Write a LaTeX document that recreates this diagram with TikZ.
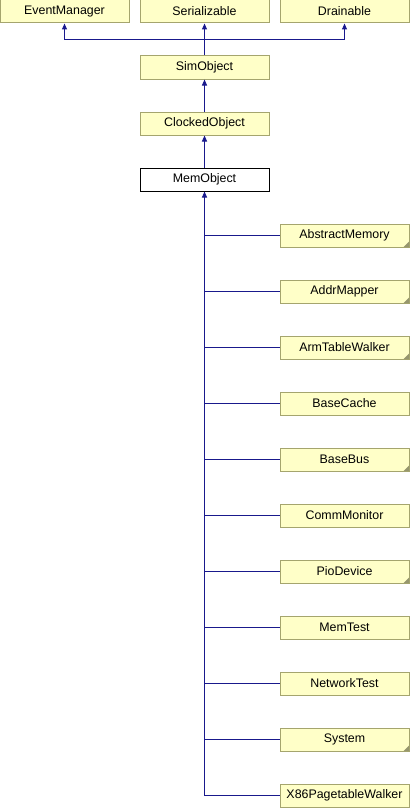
\documentclass[tikz,border=0pt]{standalone}
\usepackage{fontspec}
\setmainfont{Liberation Sans}
\usetikzlibrary{arrows.meta}
\definecolor{edgecol}{RGB}{25,25,140}
\definecolor{boxfill}{RGB}{255,255,200}
\definecolor{boxline}{RGB}{165,165,110}
\definecolor{foldcol}{RGB}{150,150,110}
\tikzset{
  cls/.style={draw=boxline, fill=boxfill, line width=1pt, minimum width=129pt, minimum height=23pt, inner sep=0pt, font=\fontsize{12.4}{14}\selectfont},
  cur/.style={cls, draw=black, fill=white},
  edge/.style={draw=edgecol, line width=1pt},
  tip/.style={{Triangle[width=5pt,length=6pt]}-},
}
\newcommand{\fold}[1]{\fill[foldcol] ([xshift=-6pt,yshift=0.5pt]#1.south east) -- ([xshift=-0.5pt,yshift=0.5pt]#1.south east) -- ([xshift=-0.5pt,yshift=6pt]#1.south east) -- cycle;}
\begin{document}
\begin{tikzpicture}[x=1pt,y=-1pt]
\useasboundingbox (0,0) rectangle (410,808);
\node[cls] (em) at (64.5,11.5) {EventManager};
\node[cls] (ser) at (204.5,11.5) {Serializable};
\node[cls] (dr) at (344.5,11.5) {Drainable};
\node[cls] (sim) at (204.5,67.5) {SimObject};
\node[cls] (clk) at (204.5,123.5) {ClockedObject};
\node[cur] (mem) at (204.5,179.5) {MemObject};
\foreach \n/\t/\k in {am/AbstractMemory/0, amap/AddrMapper/1, atw/ArmTableWalker/2, bc/BaseCache/3, bb/BaseBus/4, cm/CommMonitor/5, pio/PioDevice/6, mt/MemTest/7, nt/NetworkTest/8, sys/System/9, x86/X86PagetableWalker/10}{
  \node[cls] (\n) at (344.5,{235.5+56*\k}) {\t};
}
\fold{am}\fold{amap}\fold{atw}\fold{bb}\fold{pio}\fold{sys}
\coordinate (join) at ([yshift=16pt]sim.north);
\draw[edge,tip] (ser.south) -- (sim.north);
\draw[edge,tip] (em.south) |- (join);
\draw[edge,tip] (dr.south) |- (join);
\draw[edge,tip] (sim.south) -- (clk.north);
\draw[edge,tip] (clk.south) -- (mem.north);
\draw[edge,tip] (mem.south) -- (mem.south |- x86.west) -- (x86.west);
\foreach \n in {am,amap,atw,bc,bb,cm,pio,mt,nt,sys}{
  \draw[edge] (mem.south |- \n.west) -- (\n.west);
}
\end{tikzpicture}
\end{document}
